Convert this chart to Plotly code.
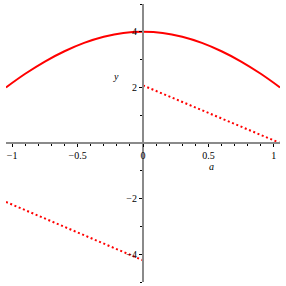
import plotly.graph_objects as go

# Solid curve
curve_a = [-1.047, -0.9, -0.75, -0.6, -0.45, -0.3, -0.15, 0.0, 0.15, 0.3, 0.45, 0.6, 0.75, 0.9, 1.047]
curve_y = [2.0, 2.49, 2.93, 3.30, 3.60, 3.82, 3.96, 4.0, 3.96, 3.82, 3.60, 3.30, 2.93, 2.49, 2.0]

# Dotted segments
upper_a = [0.0, 1.047]
upper_y = [2.07, 0.0]
lower_a = [-1.047, 0.0]
lower_y = [-2.12, -4.22]

x_ticks = [-1, -0.5, 0, 0.5, 1]
x_labels = ["−1", "−0.5", "0", "0.5", "1"]
x_minor = [-0.9, -0.8, -0.7, -0.6, -0.4, -0.3, -0.2, -0.1, 0.1, 0.2, 0.3, 0.4, 0.6, 0.7, 0.8, 0.9]
y_ticks = [-4, -2, 2, 4]
y_labels = ["−4", "−2", "2", "4"]
y_minor = [-5, -3, -1, 1, 3, 5]

red = "#ff0000"
fig = go.Figure()
fig.add_trace(go.Scatter(x=curve_a, y=curve_y, mode="lines", line=dict(color=red, width=2, shape="spline"), hoverinfo="skip", cliponaxis=False))
fig.add_trace(go.Scatter(x=upper_a, y=upper_y, mode="lines", line=dict(color=red, width=2, dash="2px,2.6px"), hoverinfo="skip", cliponaxis=False))
fig.add_trace(go.Scatter(x=lower_a, y=lower_y, mode="lines", line=dict(color=red, width=2, dash="2px,2.6px"), hoverinfo="skip", cliponaxis=False))

tickfont = dict(family="Liberation Serif", size=10, color="black")
axis_col = "#8a8a8a"

fig.update_layout(
    width=286, height=286,
    margin=dict(l=6, r=6, t=4, b=4),
    paper_bgcolor="white", plot_bgcolor="white",
    showlegend=False,
    xaxis=dict(range=[-1.047, 1.047], anchor="free", position=0.5, automargin=False,
               showgrid=False, zeroline=False, showline=True, linecolor=axis_col, linewidth=2,
               tickvals=x_ticks, ticktext=x_labels, ticks="outside", ticklen=3, tickwidth=1,
               tickcolor="black", tickfont=tickfont,
               minor=dict(tickvals=x_minor, ticks="outside", ticklen=2, tickwidth=1, tickcolor="black")),
    yaxis=dict(range=[-5, 5], anchor="free", position=0.5, automargin=False,
               showgrid=False, zeroline=False, showline=True, linecolor=axis_col, linewidth=2,
               tickvals=y_ticks, ticktext=y_labels, ticks="outside", ticklen=3, tickwidth=1,
               tickcolor="black", tickfont=tickfont,
               minor=dict(tickvals=y_minor, ticks="outside", ticklen=2, tickwidth=1, tickcolor="black")),
    annotations=[
        dict(x=0.52, y=-0.83, xref="x", yref="y", text="<i>a</i>", showarrow=False,
             font=dict(family="Liberation Serif", size=10, color="black")),
        dict(x=-0.206, y=2.4, xref="x", yref="y", text="<i>y</i>", showarrow=False,
             font=dict(family="Liberation Serif", size=10, color="black")),
    ],
)

fig.write_html("out.html", config={"displayModeBar": False, "staticPlot": True},
               post_script="document.body.style.margin='0';document.body.style.overflow='hidden';")
